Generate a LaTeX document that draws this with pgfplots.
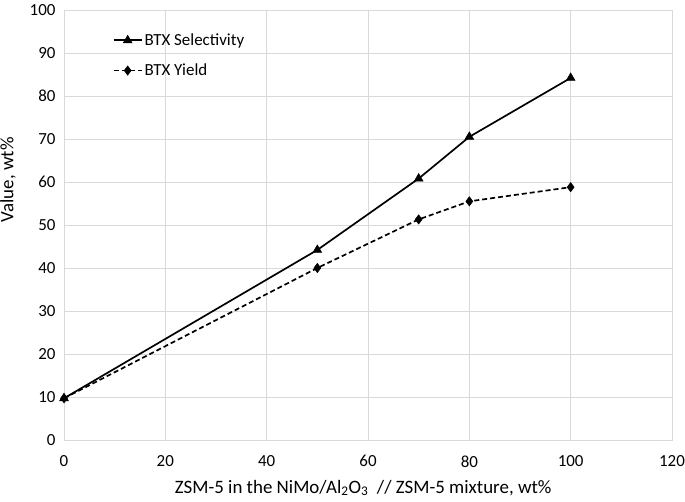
\documentclass[border=0pt]{standalone}
\usepackage{pgfplots}
\pgfplotsset{compat=1.18}
\usepackage{fontspec}
\setmainfont{Carlito}
\definecolor{gridgray}{RGB}{217,217,217}
\begin{document}
\begin{tikzpicture}
\begin{axis}[
  scale only axis,
  width=608bp, height=430bp,
  xmin=0, xmax=120, ymin=0, ymax=100,
  xtick={0,20,...,120}, ytick={0,10,...,100},
  grid=major,
  major grid style={draw=gridgray, line width=0.9pt},
  axis line style={draw=gridgray, line width=0.9pt},
  tick style={draw=none},
  /pgf/number format/assume math mode=true,
  tick label style={font=\fontsize{17}{19}\selectfont},
  xticklabel shift=12bp,
  yticklabel shift=5bp,
  label style={font=\fontsize{19}{21}\selectfont},
  xlabel={ZSM-5 in the NiMo/Al\textsubscript{2}O\textsubscript{3}\ \ // ZSM-5 mixture, wt\%},
  ylabel={Value, wt\%},
  xlabel style={at={(rel axis cs:0.492,0)}, anchor=center, yshift=-48bp},
  ylabel style={at={(rel axis cs:0,0.605)}, anchor=center, rotate=0, yshift=56bp},
  clip=false,
  legend image code/.code={\draw[mark repeat=2,mark phase=2] plot coordinates {(0bp,0bp) (14bp,0bp) (28bp,0bp)};},
  legend style={draw=none, fill=none, at={(rel axis cs:0.08,0.95)}, anchor=north west,
    font=\fontsize{17}{19}\selectfont, row sep=13bp, inner sep=0pt,
    /tikz/every odd column/.append style={column sep=0bp}},
  legend cell align=left,
]
\addplot[black, line width=1.7pt, mark=triangle*, mark size=5pt, mark options={solid, line width=0.6pt}]
  coordinates {(0,9.7) (50,44.2) (70,60.8) (80,70.5) (100,84.2)};
\addlegendentry{BTX Selectivity}
\addplot[black, line width=1.7pt, dash pattern=on 5bp off 3bp, mark=diamond*, mark size=4.6pt, mark options={solid, line width=0.6pt}]
  coordinates {(0,9.7) (50,40.0) (70,51.3) (80,55.5) (100,58.8)};
\addlegendentry{BTX Yield}
\coordinate (SW) at (rel axis cs:0,0);
\coordinate (NE) at (rel axis cs:1,1);
\end{axis}
\pgfresetboundingbox
\path[use as bounding box] ([xshift=-64bp,yshift=-62bp]SW) rectangle ([xshift=13bp,yshift=10bp]NE);
\end{tikzpicture}
\end{document}
